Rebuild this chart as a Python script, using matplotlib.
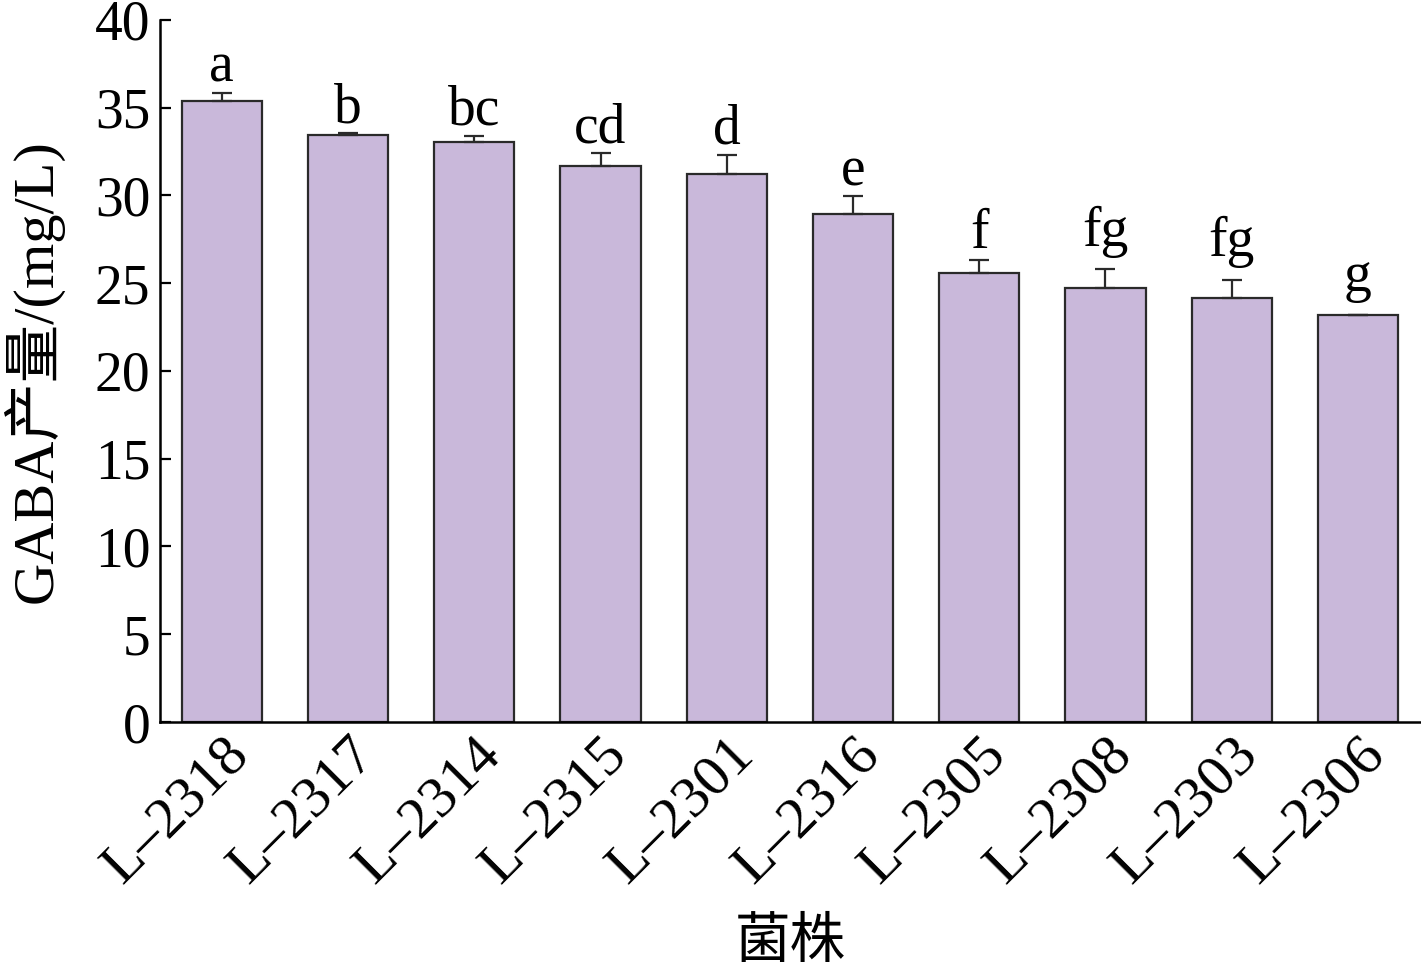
import matplotlib
matplotlib.use("Agg")
import matplotlib.pyplot as plt

# -------------------------------------
#  Data
# -------------------------------------

strains = ["L\u20132318", "L\u20132317", "L\u20132314", "L\u20132315", "L\u20132301",
           "L\u20132316", "L\u20132305", "L\u20132308", "L\u20132303", "L\u20132306"]
gaba = [35.4, 33.45, 33.05, 31.7, 31.2, 28.95, 25.6, 24.7, 24.15, 23.2]
err = [0.45, 0.1, 0.35, 0.7, 1.1, 1.0, 0.75, 1.1, 1.05, 0.0]
letters = ["a", "b", "bc", "cd", "d", "e", "f", "fg", "fg", "g"]

# -------------------------------------
#  Plot
# -------------------------------------

plt.rcParams["font.family"] = ["Liberation Serif", "Noto Sans CJK SC"]

FS = 40

fig = plt.figure(figsize=(14.21, 9.69), dpi=100)
ax = fig.add_axes([0.1126, 0.2549, 0.8874, 0.7245])

x = range(len(strains))
ax.bar(x, gaba, width=0.635, color="#c9b8da", edgecolor="#2a2a2a", linewidth=1.6,
       yerr=[[0] * len(err), err], capsize=7,
       error_kw=dict(ecolor="#2a2a2a", elinewidth=1.6, capthick=1.6))

# significance letters (a bit higher when there is a descender)
for i, (v, e, lab) in enumerate(zip(gaba, err, letters)):
    off = 8 + (9 if "g" in lab else 0)
    ax.annotate(lab, (i, v + e), xytext=(0, off), textcoords="offset points",
                ha="center", va="baseline", fontsize=FS)

ax.set_xlim(-0.49, 9.5)
ax.set_ylim(0, 40)
ax.set_yticks(range(0, 41, 5))
ax.tick_params(axis="y", direction="in", length=8, width=1.6, labelsize=FS, pad=7)
ax.tick_params(axis="x", length=0, labelsize=42, pad=4)
ax.set_xticks(list(x))
ax.set_xticklabels(strains, rotation=45, ha="right", va="top", rotation_mode="anchor")
for t in ax.get_xticklabels():
    t.set_x(t.get_position()[0])

for s in ["top", "right"]:
    ax.spines[s].set_visible(False)
for s in ["left", "bottom"]:
    ax.spines[s].set_linewidth(1.8)

ax.set_ylabel("GABA产量/(mg/L)", fontsize=42, labelpad=22)
ax.set_xlabel("菌株", fontsize=FS, labelpad=18)

fig.savefig("out.png", dpi=100)
